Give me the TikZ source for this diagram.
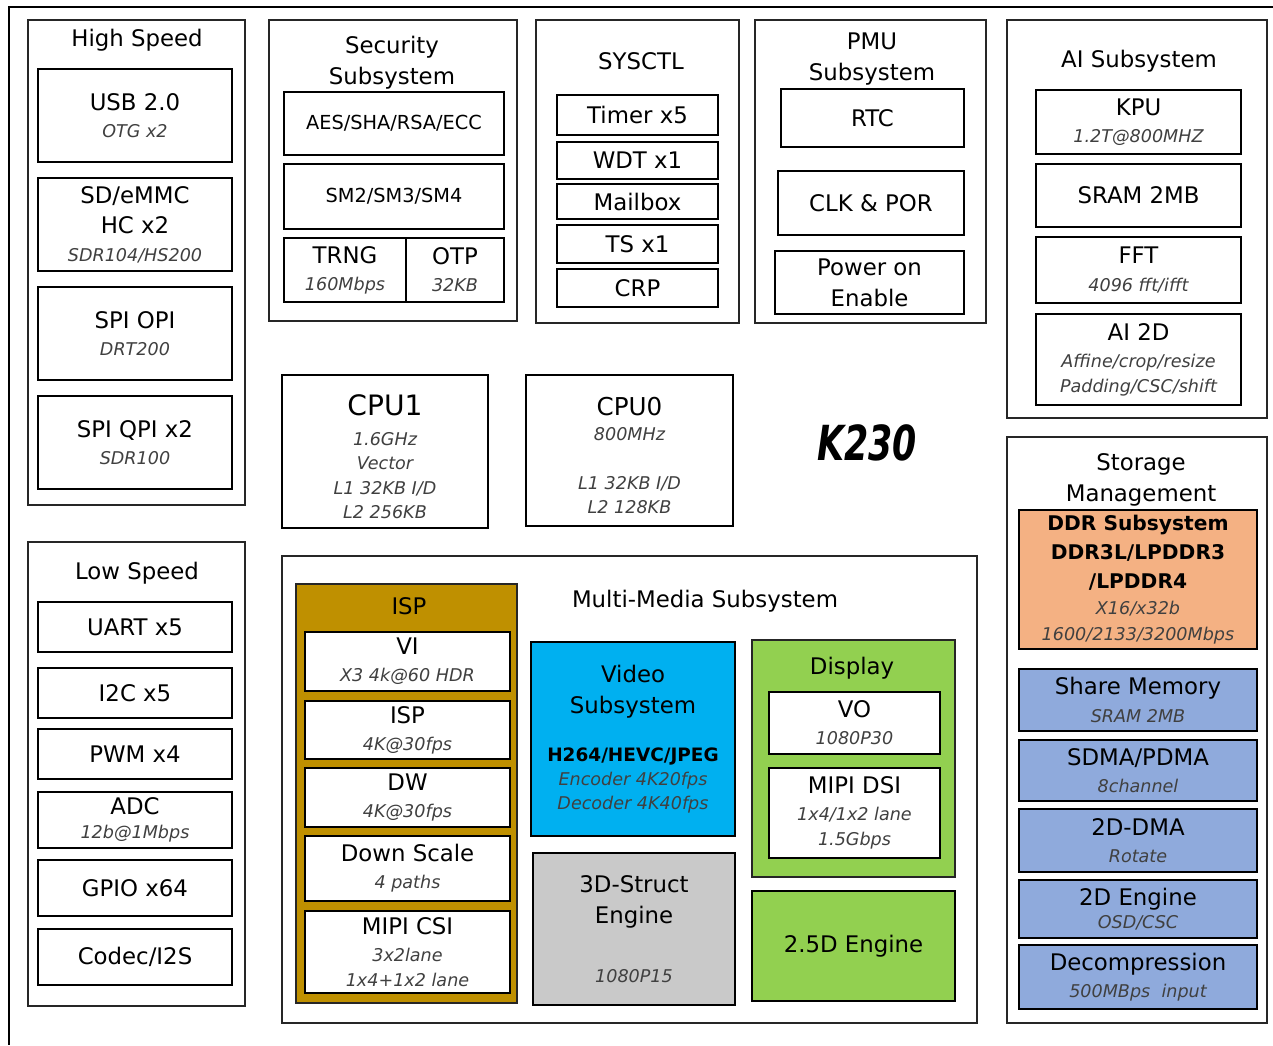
\documentclass[tikz,border=0pt]{standalone}
\usepackage{fontspec}
\usepackage{graphicx}
\setmainfont{DejaVu Sans}
\usetikzlibrary{positioning, fit}
\definecolor{ispgold}{HTML}{BF9000}
\definecolor{vidblue}{HTML}{00B0F0}
\definecolor{structgray}{HTML}{C9C9C9}
\definecolor{dispgreen}{HTML}{92D050}
\definecolor{ddrorange}{HTML}{F4B183}
\definecolor{memblue}{HTML}{8FAADC}
\definecolor{subgray}{HTML}{404040}
\newcommand{\subtxt}[1]{{\fontsize{10}{12}\selectfont\mdseries\itshape\color{subgray}#1}}
\tikzset{
  soc/.style={x=0.02cm, y=-0.02cm}, % one unit = one pixel of the layout
  grp/.style={draw=black!85, line width=1.2pt, inner sep=0pt}, % frame of a subsystem
  itm/.style={draw=black, line width=1.6pt, fill=white, inner sep=0pt}, % one block
  lbl/.style={inner sep=0pt, align=center, font=\fontsize{13}{15.5}\selectfont}, % text of a block
  ttl/.style={inner sep=0pt, align=center, font=\fontsize{13}{17.5}\selectfont}, % subsystem title
  frame/.style={line width=1.6pt}, % chip border
}

\begin{document}
\begin{tikzpicture}[soc]
\useasboundingbox (0,0) rectangle (1273,1045);
\draw[frame] (1273,7) -- (9,7) -- (9,1045);

% high speed
\node[grp, fit={(28,20) (245,505)}] (hs) {};
\node[ttl] (hsT) at (137,40) {High Speed};
\node[itm, fit={(38,69) (232,162)}] (usb) {};
\node[lbl] (usbL) at (usb) {USB 2.0\\\subtxt{OTG x2}};
\node[itm, fit={(38,178) (232,271)}] (sd) {};
\node[lbl] (sdL) at (sd) {SD/eMMC\\[2pt]HC x2\\\subtxt{SDR104/HS200}};
\node[itm, fit={(38,287) (232,380)}] (opi) {};
\node[lbl] (opiL) at (opi) {SPI OPI\\\subtxt{DRT200}};
\node[itm, fit={(38,396) (232,489)}] (qpi) {};
\node[lbl] (qpiL) at (qpi) {SPI QPI x2\\\subtxt{SDR100}};

% security
\node[grp, fit={(269,20) (517,321)}] (sec) {};
\node[ttl] (secT) at (392,63) {Security\\Subsystem};
\node[itm, fit={(284,92) (504,155)}] (aes) {};
\node[lbl, font=\fontsize{11}{13}\selectfont] (aesL) at (aes) {AES/SHA/RSA/ECC};
\node[itm, fit={(284,164) (504,229)}] (sm) {};
\node[lbl, font=\fontsize{11}{13}\selectfont] (smL) at (sm) {SM2/SM3/SM4};
\node[itm, fit={(284,238) (406,302)}] (trng) {};
\node[lbl] (trngL) at (trng) {TRNG\\\subtxt{160Mbps}};
\node[itm, fit={(406,238) (504,302)}] (otp) {};
\node[lbl] (otpL) at (otp) {OTP\\\subtxt{32KB}};

% sysctl
\node[grp, fit={(536,20) (739,323)}] (sys) {};
\node[ttl] (sysT) at (641,61) {SYSCTL};
\node[itm, fit={(557,95) (718,135)}] (timer) {};
\node[lbl] (timerL) at (timer) {Timer x5};
\node[itm, fit={(557,142) (718,179)}] (wdt) {};
\node[lbl] (wdtL) at (wdt) {WDT x1};
\node[itm, fit={(557,184) (718,219)}] (mbox) {};
\node[lbl] (mboxL) at (mbox) {Mailbox};
\node[itm, fit={(557,225) (718,263)}] (ts) {};
\node[lbl] (tsL) at (ts) {TS x1};
\node[itm, fit={(557,269) (718,307)}] (crp) {};
\node[lbl] (crpL) at (crp) {CRP};

% pmu
\node[grp, fit={(755,20) (986,323)}] (pmu) {};
\node[ttl] (pmuT) at (872,59) {PMU\\Subsystem};
\node[itm, fit={(781,89) (964,147)}] (rtc) {};
\node[lbl] (rtcL) at (rtc) {RTC};
\node[itm, fit={(778,171) (964,235)}] (clk) {};
\node[lbl] (clkL) at (clk) {CLK \& POR};
\node[itm, fit={(775,251) (964,314)}] (pwr) {};
\node[lbl] (pwrL) at (pwr) {Power on\\[2pt]Enable};

% ai
\node[grp, fit={(1007,20) (1267,418)}] (ai) {};
\node[ttl] (aiT) at (1139,61) {AI Subsystem};
\node[itm, fit={(1036,90) (1241,154)}] (kpu) {};
\node[lbl] (kpuL) at (kpu) {KPU\\\subtxt{1.2T@800MHZ}};
\node[itm, fit={(1036,164) (1241,227)}] (sram) {};
\node[lbl] (sramL) at (sram) {SRAM 2MB};
\node[itm, fit={(1036,237) (1241,303)}] (fft) {};
\node[lbl] (fftL) at (fft) {FFT\\\subtxt{4096 fft/ifft}};
\node[itm, fit={(1036,314) (1241,405)}] (ai2d) {};
\node[lbl] (ai2dL) at (ai2d) {AI 2D\\\subtxt{Affine/crop/resize}\\[-1.5pt]\subtxt{Padding/CSC/shift}};

% cpus
\node[itm, fit={(282,375) (488,528)}] (cpu1) {};
\node[lbl, font=\fontsize{10}{14}\selectfont] (cpu1L) at ([yshift=-3]cpu1.center)
  {{\fontsize{16}{18}\selectfont CPU1}\\[3pt]\subtxt{1.6GHz}\\\subtxt{Vector}\\\subtxt{L1 32KB I/D}\\\subtxt{L2 256KB}};
\node[itm, fit={(526,375) (733,526)}] (cpu0) {};
\node[lbl, font=\fontsize{10}{14}\selectfont] (cpu0L) at ([yshift=-3]cpu0.center)
  {{\fontsize{14}{16}\selectfont CPU0}\\\subtxt{800MHz}\\[14pt]\subtxt{L1 32KB I/D}\\\subtxt{L2 128KB}};
\node[font=\fontsize{22}{24}\selectfont\bfseries\itshape] (chip) at (867,443) {\scalebox{0.9}[1.25]{K230}};

% low speed
\node[grp, fit={(28,542) (245,1006)}] (ls) {};
\node[ttl] (lsT) at (137,573) {Low Speed};
\node[itm, fit={(38,602) (232,652)}] (uart) {};
\node[lbl] (uartL) at (uart) {UART x5};
\node[itm, fit={(38,668) (232,718)}] (i2c) {};
\node[lbl] (i2cL) at (i2c) {I2C x5};
\node[itm, fit={(38,729) (232,779)}] (pwm) {};
\node[lbl] (pwmL) at (pwm) {PWM x4};
\node[itm, fit={(38,792) (232,848)}] (adc) {};
\node[lbl] (adcL) at (adc) {ADC\\[-2pt]\subtxt{12b@1Mbps}};
\node[itm, fit={(38,860) (232,916)}] (gpio) {};
\node[lbl] (gpioL) at (gpio) {GPIO x64};
\node[itm, fit={(38,929) (232,985)}] (codec) {};
\node[lbl] (codecL) at (codec) {Codec/I2S};

% multi-media
\node[grp, fit={(282,556) (977,1023)}] (mm) {};
\node[ttl] (mmT) at (705,601) {Multi-Media Subsystem};
\node[grp, fill=ispgold, line width=1.6pt, fit={(296,584) (517,1003)}] (ispg) {};
\node[ttl] (ispT) at (409,606) {ISP};
\node[itm, fit={(305,632) (510,691)}] (vi) {};
\node[lbl] (viL) at (vi) {VI\\\subtxt{X3 4k@60 HDR}};
\node[itm, fit={(305,701) (510,759)}] (isp) {};
\node[lbl] (ispL) at (isp) {ISP\\\subtxt{4K@30fps}};
\node[itm, fit={(305,768) (510,827)}] (dw) {};
\node[lbl] (dwL) at (dw) {DW\\\subtxt{4K@30fps}};
\node[itm, fit={(305,836) (510,901)}] (ds) {};
\node[lbl] (dsL) at (ds) {Down Scale\\\subtxt{4 paths}};
\node[itm, fit={(305,911) (510,993)}] (csi) {};
\node[lbl] (csiL) at (csi) {MIPI CSI\\\subtxt{3x2lane}\\[-1.5pt]\subtxt{1x4+1x2 lane}};
\node[itm, fill=vidblue, fit={(531,642) (735,836)}] (video) {};
\node[lbl] (videoL) at (video)
  {Video\\[2pt]Subsystem\\[12pt]{\fontsize{10.5}{12}\selectfont\bfseries H264/HEVC/JPEG}\\[-2pt]\subtxt{Encoder 4K20fps}\\[-2pt]\subtxt{Decoder 4K40fps}};
\node[itm, fill=structgray, fit={(533,853) (735,1005)}] (struct) {};
\node[lbl] (structL) at (struct) {3D-Struct\\[2pt]Engine\\[18pt]\subtxt{1080P15}};
\node[grp, fill=dispgreen, line width=1.6pt, fit={(752,640) (955,877)}] (disp) {};
\node[ttl] (dispT) at (852,668) {Display};
\node[itm, fit={(769,692) (940,754)}] (vo) {};
\node[lbl] (voL) at (vo) {VO\\\subtxt{1080P30}};
\node[itm, fit={(769,768) (940,858)}] (dsi) {};
\node[lbl] (dsiL) at (dsi) {MIPI DSI\\\subtxt{1x4/1x2 lane}\\[-1.5pt]\subtxt{1.5Gbps}};
\node[itm, fill=dispgreen, fit={(752,891) (955,1001)}] (eng25) {};
\node[lbl] (eng25L) at (eng25) {2.5D Engine};

% storage
\node[grp, fit={(1007,437) (1267,1023)}] (stor) {};
\node[ttl] (storT) at (1141,480) {Storage\\Management};
\node[itm, fill=ddrorange, fit={(1019,510) (1257,649)}] (ddr) {};
\node[lbl, font=\fontsize{11.5}{16.5}\selectfont\bfseries] (ddrL) at (ddr)
  {DDR Subsystem\\DDR3L/LPDDR3\\/LPDDR4\\[-1.5pt]\subtxt{X16/x32b}\\[-2pt]\subtxt{1600/2133/3200Mbps}};
\node[itm, fill=memblue, fit={(1019,669) (1257,731)}] (share) {};
\node[lbl] (shareL) at (share) {Share Memory\\\subtxt{SRAM 2MB}};
\node[itm, fill=memblue, fit={(1019,740) (1257,801)}] (sdma) {};
\node[lbl] (sdmaL) at (sdma) {SDMA/PDMA\\\subtxt{8channel}};
\node[itm, fill=memblue, fit={(1019,809) (1257,872)}] (dma2d) {};
\node[lbl] (dma2dL) at (dma2d) {2D-DMA\\\subtxt{Rotate}};
\node[itm, fill=memblue, fit={(1019,880) (1257,938)}] (eng2d) {};
\node[lbl] (eng2dL) at (eng2d) {2D Engine\\[-2pt]\subtxt{OSD/CSC}};
\node[itm, fill=memblue, fit={(1019,945) (1257,1009)}] (decomp) {};
\node[lbl] (decompL) at (decomp) {Decompression\\\subtxt{500MBps\ \ input}};
\end{tikzpicture}
\end{document}
